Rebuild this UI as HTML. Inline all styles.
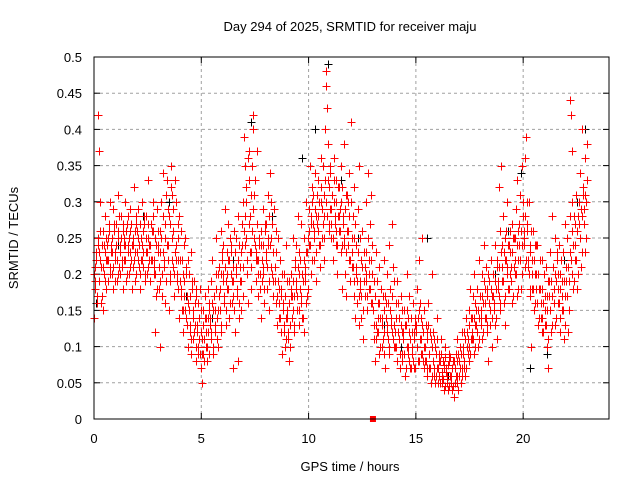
<!DOCTYPE html>
<html><head><meta charset="utf-8">
<style>
html,body{margin:0;padding:0;background:#fff;}
svg{display:block;font-family:"Liberation Sans",sans-serif;}
</style></head>
<body>
<svg id="chart" width="640" height="480" viewBox="0 0 640 480">
<rect width="640" height="480" fill="#fff"/>
<text x="350" y="31" text-anchor="middle" font-size="13" fill="#000">Day 294 of 2025, SRMTID for receiver maju</text>
<text x="350" y="471" text-anchor="middle" font-size="13" fill="#000">GPS time / hours</text>
<text x="18" y="238" text-anchor="middle" font-size="13" fill="#000" transform="rotate(-90 18 238)">SRMTID / TECUs</text>
<g id="grid"></g>
<g id="ticks"></g>
<g id="marks"></g>
<rect x="94" y="57" width="515" height="362" fill="none" stroke="#000" stroke-width="1"/>
</svg>
<script>
const xTicks=[0,5,10,15,20];
const yTicks=[0,0.05,0.1,0.15,0.2,0.25,0.3,0.35,0.4,0.45,0.5];
const yTickLabels=["0","0.05","0.1","0.15","0.2","0.25","0.3","0.35","0.4","0.45","0.5"];
const redHours=[0,0.2,0.4,0.6,0.8,1,1.2,1.4,1.6,1.8,2,2.2,2.4,2.6,2.8,3,3.2,3.4,3.6,3.8,4,4.2,4.4,4.6,4.8,5,5.2,5.4,5.6,5.8,6,6.2,6.4,6.6,6.8,7,7.2,7.4,7.6,7.8,8,8.2,8.4,8.6,8.8,9,9.2,9.4,9.6,9.8,10,10.2,10.4,10.6,10.8,11,11.2,11.4,11.6,11.8,12,12.2,12.4,12.6,12.8,13,13.2,13.4,13.6,13.8,14,14.2,14.4,14.6,14.8,15,15.2,15.4,15.6,15.8,16,16.2,16.4,16.6,16.8,17,17.2,17.4,17.6,17.8,18,18.2,18.4,18.6,18.8,19,19.2,19.4,19.6,19.8,20,20.2,20.4,20.6,20.8,21,21.2,21.4,21.6,21.8,22,22.2,22.4,22.6,22.8];
const redVals=[
[.14,.19,.21,.23,.17,.25],[.42,.37,.30,.22,.16,.24],[.26,.15,.20,.23,.28,.18],[.22,.25,.19,.27,.30,.21],[.24,.20,.29,.18,.26,.22],
[.23,.27,.19,.31,.25,.21],[.20,.24,.28,.22,.18,.26],[.25,.30,.22,.19,.27,.23],[.24,.20,.26,.29,.22,.18],[.21,.25,.32,.23,.19,.27],
[.26,.22,.29,.24,.18,.20],[.25,.30,.21,.23,.27,.19],[.23,.28,.20,.25,.33,.22],[.19,.24,.27,.22,.26,.30],[.21,.25,.12,.17,.29,.23],
[.24,.18,.10,.26,.30,.20],[.34,.28,.22,.16,.25,.19],[.33,.29,.24,.15,.20,.27],[.35,.31,.26,.21,.17,.23],[.30,.24,.19,.27,.22,.14],
[.22,.18,.26,.15,.20,.12],[.19,.25,.14,.21,.17,.10],[.16,.20,.12,.23,.09,.18],[.15,.11,.19,.13,.08,.17],[.13,.09,.16,.11,.18,.07],
[.12,.05,.09,.15,.11,.17],[.10,.14,.08,.18,.12,.16],[.13,.19,.11,.22,.15,.09],[.17,.12,.20,.25,.14,.10],[.15,.21,.18,.26,.12,.23],
[.20,.24,.16,.29,.19,.13],[.18,.22,.27,.14,.25,.20],[.23,.16,.07,.19,.26,.12],[.21,.25,.17,.08,.28,.14],[.19,.23,.15,.27,.21,.30],
[.39,.35,.30,.25,.20,.16],[.37,.33,.28,.23,.18,.26],[.42,.40,.31,.24,.19,.22],[.27,.22,.17,.25,.20,.14],[.24,.19,.29,.21,.16,.26],
[.22,.27,.18,.31,.24,.15],[.34,.30,.25,.20,.17,.23],[.29,.21,.16,.26,.13,.19],[.18,.14,.22,.12,.17,.09],[.16,.12,.20,.10,.14,.24],
[.15,.11,.19,.08,.13,.17],[.20,.14,.25,.17,.12,.22],[.18,.24,.15,.28,.20,.13],[.22,.17,.27,.14,.19,.12],[.25,.20,.30,.16,.23,.18],
[.29,.24,.35,.20,.27,.32],[.31,.26,.22,.34,.28,.19],[.27,.33,.24,.30,.21,.36],[.30,.25,.35,.28,.22,.40],[.48,.46,.43,.38,.32,.27],
[.34,.29,.25,.31,.22,.36],[.30,.27,.33,.24,.20,.28],[.32,.26,.29,.23,.35,.18],[.28,.24,.38,.20,.31,.17],[.26,.30,.22,.34,.19,.41],
[.25,.21,.28,.17,.32,.14],[.20,.24,.16,.29,.13,.35],[.18,.22,.14,.26,.11,.19],[.23,.17,.30,.20,.15,.34],[.22,.18,.27,.16,.31,.20],
[.15,.11,.19,.08,.13,.23],[.12,.16,.09,.21,.14,.18],[.14,.10,.17,.12,.22,.07],[.16,.13,.20,.11,.24,.09],[.18,.14,.27,.12,.21,.10],
[.13,.10,.16,.08,.19,.12],[.11,.14,.07,.17,.12,.09],[.12,.09,.15,.06,.13,.20],[.10,.14,.08,.17,.11,.07],[.09,.12,.16,.07,.11,.14],
[.13,.10,.18,.08,.15,.22],[.11,.14,.09,.25,.12,.07],[.10,.08,.13,.06,.11,.16],[.09,.07,.12,.05,.10,.20],[.08,.06,.11,.05,.09,.14],
[.07,.05,.09,.06,.08,.11],[.06,.05,.08,.04,.07,.10],[.07,.05,.06,.04,.09,.08],[.06,.05,.07,.04,.08,.03],[.07,.05,.09,.06,.11,.04],
[.08,.06,.10,.05,.12,.07],[.09,.07,.12,.06,.14,.10],[.12,.09,.15,.08,.18,.11],[.14,.11,.17,.09,.20,.13],[.15,.12,.18,.10,.22,.14],
[.17,.13,.20,.11,.16,.24],[.18,.14,.21,.12,.17,.08],[.19,.15,.13,.22,.10,.17],[.20,.16,.24,.13,.18,.11],[.22,.18,.32,.15,.26,.35],
[.24,.19,.28,.16,.22,.13],[.26,.21,.30,.18,.24,.20],[.23,.19,.27,.16,.25,.21],[.25,.20,.29,.17,.33,.22],[.27,.22,.31,.18,.35,.24],
[.30,.25,.36,.21,.39,.27],[.26,.21,.30,.17,.23,.10],[.22,.18,.26,.15,.20,.24],[.20,.16,.24,.13,.18,.22],[.18,.14,.22,.12,.16,.20],
[.17,.13,.21,.10,.15,.07],[.19,.15,.23,.12,.28,.17],[.21,.16,.25,.13,.19,.23],[.20,.16,.24,.12,.18,.22],[.19,.15,.23,.11,.17,.27],
[.21,.17,.25,.12,.19,.28],[.44,.42,.37,.30,.24,.19],[.27,.22,.31,.18,.26,.20],[.30,.25,.34,.21,.28,.40],[.32,.27,.36,.23,.30,.38]
];
const redVals2=[
[.20,.18,.22,.16,.24],[.23,.19,.26,.21,.17],[.21,.24,.19,.25,.22],[.24,.22,.26,.20,.23],[.23,.25,.21,.27,.19],
[.24,.22,.26,.20,.28],[.23,.25,.21,.27,.24],[.22,.24,.26,.20,.28],[.25,.23,.21,.27,.24],[.24,.22,.26,.20,.28],
[.23,.25,.21,.27,.22],[.24,.22,.26,.28,.20],[.25,.23,.27,.21,.24],[.24,.22,.26,.28,.20],[.22,.20,.24,.18,.26],
[.21,.23,.19,.25,.17],[.23,.21,.27,.19,.31],[.24,.22,.28,.19,.32],[.25,.22,.29,.20,.33],[.22,.20,.25,.18,.28],
[.19,.17,.22,.15,.24],[.17,.15,.20,.13,.22],[.15,.13,.17,.11,.19],[.14,.12,.16,.10,.18],[.12,.10,.14,.09,.15],
[.11,.09,.13,.08,.14],[.12,.10,.14,.09,.15],[.14,.12,.16,.10,.17],[.15,.13,.18,.11,.20],[.17,.15,.20,.13,.22],
[.19,.17,.21,.15,.23],[.20,.18,.22,.16,.24],[.19,.17,.21,.15,.23],[.20,.18,.22,.16,.24],[.21,.19,.24,.17,.26],
[.28,.24,.32,.22,.36],[.27,.23,.31,.21,.35],[.29,.25,.33,.23,.37],[.22,.20,.24,.18,.26],[.22,.20,.24,.18,.27],
[.23,.21,.25,.19,.28],[.24,.21,.27,.19,.29],[.21,.19,.23,.17,.25],[.16,.14,.18,.12,.20],[.15,.13,.17,.11,.19],
[.14,.12,.16,.10,.18],[.17,.15,.19,.13,.21],[.19,.17,.21,.15,.23],[.18,.16,.20,.14,.22],[.21,.19,.23,.17,.25],
[.26,.24,.28,.22,.30],[.27,.25,.29,.23,.31],[.28,.26,.30,.24,.32],[.29,.27,.31,.25,.33],[.30,.28,.33,.26,.35],
[.29,.27,.31,.25,.33],[.28,.26,.30,.24,.32],[.28,.26,.30,.24,.32],[.27,.25,.29,.23,.31],[.26,.24,.28,.22,.30],
[.23,.21,.25,.19,.27],[.21,.19,.23,.17,.25],[.19,.17,.21,.15,.23],[.21,.19,.23,.17,.25],[.20,.18,.22,.16,.24],
[.15,.13,.17,.11,.19],[.14,.12,.16,.10,.18],[.13,.11,.15,.09,.17],[.14,.12,.16,.10,.18],[.15,.13,.17,.11,.19],
[.12,.10,.14,.08,.16],[.11,.09,.13,.08,.15],[.11,.09,.13,.07,.15],[.10,.09,.12,.07,.14],[.10,.08,.12,.07,.13],
[.12,.10,.14,.08,.16],[.11,.09,.13,.08,.15],[.10,.08,.12,.07,.13],[.09,.07,.11,.06,.12],[.08,.07,.10,.06,.11],
[.07,.06,.08,.05,.09],[.065,.055,.075,.045,.085],[.065,.055,.075,.045,.085],[.06,.05,.07,.045,.08],[.07,.06,.08,.05,.09],
[.08,.07,.09,.06,.10],[.09,.08,.11,.07,.12],[.11,.10,.13,.09,.14],[.12,.11,.14,.10,.16],[.13,.12,.15,.11,.17],
[.15,.14,.17,.12,.19],[.16,.14,.18,.13,.20],[.16,.15,.18,.14,.20],[.17,.15,.19,.14,.21],[.19,.17,.21,.16,.23],
[.21,.19,.23,.17,.25],[.22,.20,.24,.18,.26],[.21,.19,.23,.17,.25],[.22,.20,.24,.18,.26],[.24,.22,.26,.20,.28],
[.26,.24,.28,.22,.30],[.22,.20,.24,.18,.26],[.20,.18,.22,.16,.24],[.18,.16,.20,.14,.22],[.16,.14,.18,.12,.20],
[.15,.13,.17,.11,.19],[.17,.15,.19,.13,.21],[.18,.16,.20,.14,.22],[.18,.16,.20,.14,.22],[.17,.15,.19,.13,.21],
[.19,.17,.21,.15,.23],[.22,.20,.26,.18,.28],[.24,.22,.26,.20,.28],[.27,.25,.29,.23,.31],[.29,.27,.31,.25,.33]
];
const blackHours=[0.1,1.1,2.3,3.5,4.3,5.5,6.5,7.3,8.3,9.1,9.7,10.3,10.9,11.5,12.3,13.5,14.3,15.5,16.5,17.7,18.7,19.3,19.9,20.3,21.1,21.9,22.5,22.9];
const blackVals=[0.16,0.24,0.28,0.30,0.17,0.14,0.22,0.41,0.28,0.16,0.36,0.40,0.49,0.33,0.25,0.13,0.10,0.25,0.06,0.14,0.20,0.26,0.34,0.07,0.09,0.22,0.30,0.40];
const squareHours=[13];
const squareVals=[0];

const X0=94,X1=609,Y0=419,Y1=57,XMAX=24,YMAX=0.5;
function xs(h){return X0+(X1-X0)*h/XMAX;}
function ys(v){return Y0-(Y0-Y1)*v/YMAX;}
const NS="http://www.w3.org/2000/svg";
const grid=document.getElementById('grid'),ticks=document.getElementById('ticks'),marks=document.getElementById('marks');
function mk(tag,attrs,parent){const e=document.createElementNS(NS,tag);for(const k in attrs)e.setAttribute(k,attrs[k]);parent.appendChild(e);return e;}
xTicks.forEach((t,i)=>{
  const x=xs(t);
  if(t>0){const g=mk('line',{x1:x,x2:x,y1:Y1,y2:Y0,stroke:'#a0a0a0','stroke-dasharray':'3,3'},grid);
  
  }
  const a=mk('line',{x1:x,x2:x,y1:Y0,y2:Y0-6,stroke:'#000'},ticks);
  
  
  const b=mk('line',{x1:x,x2:x,y1:Y1,y2:Y1+6,stroke:'#000'},ticks);
  
  
  const l=mk('text',{x:x,y:Y0+24,'text-anchor':'middle','font-size':13},ticks);
  l.textContent=String(t);
  
  
});
yTicks.forEach((t,i)=>{
  const y=ys(t);
  if(t>0&&t<YMAX){const g=mk('line',{x1:X0,x2:X1,y1:y,y2:y,stroke:'#a0a0a0','stroke-dasharray':'3,3'},grid);
  
  }
  const a=mk('line',{x1:X0,x2:X0+6,y1:y,y2:y,stroke:'#000'},ticks);
  
  
  const b=mk('line',{x1:X1,x2:X1-6,y1:y,y2:y,stroke:'#000'},ticks);
  
  
  const l=mk('text',{x:X0-12,y:y+5,'text-anchor':'end','font-size':13},ticks);
  l.textContent=yTickLabels[i];
  
  
});
function plus(h,v,color,name){
  const x=Math.round(xs(h))+0.5,y=Math.round(ys(v))+0.5;
  const p=mk('path',{d:`M${x-4} ${y}H${x+4}M${x} ${y-4}V${y+4}`,stroke:color,'stroke-width':1,fill:'none'},marks);
  
  
}
blackHours.forEach((h,i)=>{plus(h,blackVals[i],'#000000','black-point');});
redHours.forEach((h,i)=>{redVals[i].forEach((v,j)=>{plus(h+j*0.033,v,'#ff0000','red-point');});});
redHours.forEach((h,i)=>{redVals2[i].forEach((v,j)=>{plus(h+0.016+j*0.04,v,'#ff0000','red-point');});});
squareHours.forEach((h,i)=>{
  const s=mk('rect',{x:xs(h)-3,y:ys(squareVals[i])-3,width:6,height:6,fill:'#ff0000'},marks);
  
  
});
</script>
</body></html>
